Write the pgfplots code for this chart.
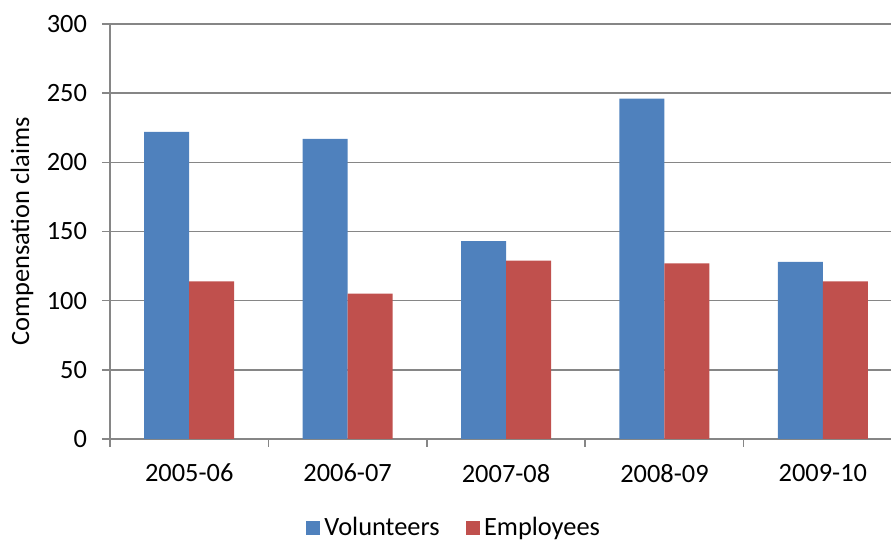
\documentclass[border=0pt]{standalone}
\usepackage{fontspec}
\setmainfont{Carlito}
\usepackage{pgfplots}
\pgfplotsset{compat=1.18}
\definecolor{vol}{HTML}{4F81BD}
\definecolor{emp}{HTML}{C0504D}
\definecolor{gridc}{HTML}{868686}
\begin{document}
\begin{tikzpicture}
\begin{axis}[
  at={(0,0)}, anchor=south west,
  scale only axis,
  width=390.5pt, height=207.5pt,
  ybar=0pt, bar width=22.5pt,
  xmin=-0.5, xmax=4.43,
  ymin=0, ymax=300,
  ytick={0,50,...,300},
  xtick={0,1,2,3,4},
  xticklabels={2005-06,2006-07,2007-08,2008-09,2009-10},
  minor xtick={-0.5,0.5,1.5,2.5,3.5,4.5},
  major x tick style={draw=none},
  minor x tick style={gridc, line width=0.8pt},
  minor tick length=4pt,
  major tick length=4pt,
  tick align=outside,
  ytick style={gridc, line width=0.8pt},
  ymajorgrids,
  grid style={gridc, line width=0.8pt},
  axis x line*=bottom,
  axis y line*=left,
  axis line style={gridc, line width=0.8pt, -},
  every tick label/.append style={font=\fontsize{13.2}{15}\selectfont, text=black},
  /pgf/number format/assume math mode=true,
  xticklabel style={yshift=-5pt},
  yticklabel style={xshift=-4pt},
  ylabel={Compensation claims},
  every axis y label/.style={at={(axis description cs:0,0.5)}, rotate=90, anchor=center, yshift=44pt, font=\fontsize{13.2}{15}\selectfont},
  legend style={at={(172.5pt,-44.5pt)}, anchor=center, draw=none, legend columns=2,
    font=\fontsize{13.2}{15}\selectfont,
    /tikz/every even column/.append style={column sep=11pt}},
  legend image code/.code={\fill[#1] (0pt,-3.6pt) rectangle (7.2pt,3.6pt);},
]
\addplot[fill=vol, draw=none] coordinates {(0,222) (1,217) (2,143) (3,246) (4,128)};
\addplot[fill=emp, draw=none] coordinates {(0,114) (1,105) (2,129) (3,127) (4,114)};
\legend{Volunteers,Employees}
\end{axis}
\pgfresetboundingbox
\path (-55pt,-51.5pt) rectangle (390.5pt,219.5pt);
\end{tikzpicture}
\end{document}
